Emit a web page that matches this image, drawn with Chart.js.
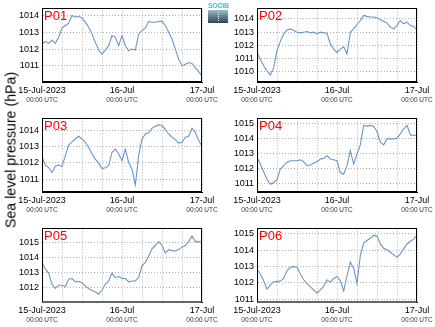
<!DOCTYPE html>
<html><head><meta charset="utf-8">
<script src="https://cdn.jsdelivr.net/npm/chart.js@4/dist/chart.umd.min.js"></script>
<style>
html,body{margin:0;padding:0;background:#fff;}
#wrap{position:relative;width:435px;height:327px;overflow:hidden;font-family:"Liberation Sans",Arial,sans-serif;background:#fff;}
.pc{position:absolute;width:220px;height:105px;}
.pc canvas{display:block;}
#ylab{position:absolute;left:10.5px;top:150px;transform:translate(-50%,-50%) rotate(-90deg);white-space:nowrap;font-size:14.2px;color:#000;line-height:15px;}
#logo{position:absolute;left:208px;top:2px;width:20px;}
#logo .t{font-size:7px;line-height:7px;font-weight:bold;color:#3cc3d8;text-align:center;letter-spacing:-0.3px;}
#logo .b{margin-top:1px;height:13px;background:linear-gradient(#9dbccb,#5f8193 50%,#2e4656);position:relative;}
#logo .b:after{content:"";position:absolute;left:10px;top:2px;height:9px;border-left:1px dotted #fff;}
</style></head>
<body><div id="wrap">
<div class="pc" style="left:0px;top:0px"><canvas id="c0" width="220" height="105"></canvas></div>
<div class="pc" style="left:215px;top:0px"><canvas id="c1" width="220" height="105"></canvas></div>
<div class="pc" style="left:0px;top:110px"><canvas id="c2" width="220" height="105"></canvas></div>
<div class="pc" style="left:215px;top:110px"><canvas id="c3" width="220" height="105"></canvas></div>
<div class="pc" style="left:0px;top:220px"><canvas id="c4" width="220" height="105"></canvas></div>
<div class="pc" style="left:215px;top:220px"><canvas id="c5" width="220" height="105"></canvas></div>
<div id="ylab">Sea level pressure (hPa)</div>
<div id="logo"><div class="t">SOCIB</div><div class="b"></div></div>
</div>
<script>
// hours since 15-Jul-2023 00:00 UTC
const hours = [0,1,2,3,4,5,6,7,8,9,10,11,12,13,14,15,16,17,18,19,20,21,22,23,24,25,26,27,28,29,30,31,32,33,34,35,36,37,38,39,40,41,42,43,44,45,46,47,48];
const gridHours = [0,6,12,18,24,30,36,42,48];
const labelHours = [0,24,48];
const dateLabels = ["15-Jul-2023","16-Jul","17-Jul"];
const timeLabel = "00:00 UTC";
const stations = ["P01","P02","P03","P04","P05","P06"];

const p01 = [1012.30,1012.46,1012.34,1012.54,1012.34,1012.70,1013.26,1013.40,1013.54,1014.00,
             1013.90,1013.94,1013.86,1013.60,1013.30,1012.90,1012.40,1011.94,1011.70,1011.94,
             1012.20,1012.80,1012.70,1012.20,1012.80,1012.20,1011.90,1012.00,1011.94,1012.90,
             1013.10,1013.26,1013.64,1013.60,1013.60,1013.64,1013.66,1013.40,1013.00,1012.60,
             1012.00,1011.40,1011.00,1011.10,1011.20,1011.14,1010.90,1010.66,1010.40];
const p02 = [1011.47,1010.96,1010.46,1010.08,1009.77,1010.30,1011.60,1012.30,1012.86,1013.16,
             1013.24,1013.11,1012.99,1012.94,1012.99,1013.04,1012.94,1012.99,1012.86,1012.99,
             1012.94,1012.91,1012.10,1011.72,1011.47,1011.72,1011.90,1011.34,1012.99,1013.24,
             1013.57,1013.87,1014.25,1014.18,1014.13,1014.13,1014.08,1013.92,1013.82,1013.67,
             1013.37,1013.24,1013.49,1013.87,1013.62,1013.75,1013.49,1013.42,1013.16];
const p03 = [1012.41,1011.87,1011.72,1011.41,1011.80,1011.87,1011.78,1012.45,1013.11,1013.30,
             1013.48,1013.65,1013.48,1013.28,1012.96,1012.55,1012.24,1011.99,1011.65,1011.70,
             1011.83,1012.65,1012.86,1012.55,1012.14,1012.86,1012.03,1011.62,1010.65,1012.45,
             1013.48,1013.79,1013.86,1014.14,1014.27,1014.35,1014.31,1014.06,1013.79,1013.59,
             1013.44,1013.23,1013.28,1013.59,1013.65,1014.14,1013.90,1013.38,1013.03];
const p04 = [1012.74,1012.29,1011.77,1011.27,1010.93,1011.05,1011.23,1011.95,1012.18,1012.40,
             1012.51,1012.51,1012.51,1012.58,1012.45,1012.18,1012.22,1012.36,1012.45,1012.63,
             1012.67,1012.85,1012.63,1012.58,1012.51,1011.72,1011.61,1012.18,1013.19,1012.29,
             1012.97,1013.58,1014.89,1014.84,1014.89,1014.82,1014.48,1013.76,1013.58,1013.98,
             1013.98,1013.98,1014.03,1014.32,1014.66,1014.89,1014.25,1014.21,1014.25];
const p05 = [1013.67,1013.22,1012.96,1012.20,1011.95,1012.16,1012.16,1012.07,1012.56,1012.60,
             1012.38,1012.40,1012.33,1012.11,1011.93,1011.82,1011.71,1011.56,1011.84,1012.22,
             1012.44,1012.96,1012.67,1012.73,1012.60,1012.60,1012.38,1012.44,1012.44,1012.67,
             1013.44,1013.67,1014.07,1014.56,1014.78,1015.04,1014.78,1014.29,1014.51,1014.44,
             1014.42,1014.51,1014.67,1014.78,1015.04,1015.40,1015.04,1015.04,1015.00];
const p06 = [1012.85,1012.54,1012.13,1011.62,1011.86,1012.07,1012.09,1012.11,1012.27,1012.74,
             1012.95,1012.99,1012.95,1012.54,1012.19,1011.96,1011.76,1011.57,1011.37,1011.57,
             1011.78,1012.19,1012.03,1012.27,1012.39,1012.13,1011.51,1012.44,1013.26,1012.89,
             1011.95,1013.67,1014.45,1014.59,1014.73,1014.90,1014.86,1014.38,1014.12,1014.02,
             1013.87,1013.71,1013.56,1013.77,1014.08,1014.38,1014.53,1014.69,1014.90];
const series = [p01,p02,p03,p04,p05,p06];
const yMin = [1010.04,1009.24,1010.21,1010.41,1011.05,1010.83];
const yMax = [1014.42,1014.78,1014.75,1015.36,1015.91,1015.33];

const FONT = "'Liberation Sans', Arial, sans-serif";

const framePlugin = {
  id: 'frame',
  afterDatasetsDraw(chart, args, opts) {
    const {ctx, chartArea: a} = chart;
    ctx.save();
    ctx.font = "13px " + FONT;
    ctx.fillStyle = '#ff0000';
    ctx.textBaseline = 'top';
    ctx.textAlign = 'left';
    ctx.fillText(opts.name, a.left + 2, a.top + 2);
    ctx.restore();
  },
  afterDraw(chart, args, opts) {
    const {ctx, chartArea: a} = chart;
    ctx.save();
    ctx.strokeStyle = '#000';
    ctx.lineWidth = 1;
    const l = Math.round(a.left) + 0.5, r = Math.round(a.right) - 0.5;
    const t = Math.round(a.top) + 0.5, b = Math.round(a.bottom) - 0.5;
    ctx.strokeRect(l, t, r - l, b - t);
    if (opts.thick) {
      ctx.strokeStyle = '#666';
      ctx.lineWidth = 2;
      ctx.beginPath();
      ctx.moveTo(l, b + 0.5); ctx.lineTo(r, b + 0.5);
      ctx.stroke();
    }
    ctx.restore();
  }
};

function makeChart(i) {
  const ctx = document.getElementById('c' + i);
  return new Chart(ctx, {
    type: 'line',
    data: {
      labels: hours,
      datasets: [{
        data: hours.map((h, k) => ({x: h, y: series[i][k]})),
        borderColor: '#6797c8',
        borderWidth: 1.1,
        pointRadius: 0,
        tension: 0,
        fill: false,
        xAxisID: 'x',
        yAxisID: 'y'
      }]
    },
    options: {
      responsive: false,
      animation: false,
      events: [],
      layout: {padding: {left: 0, right: 18, top: 8, bottom: 0}},
      plugins: {legend: {display: false}, tooltip: {enabled: false}, title: {display: false},
        frame: {name: stations[i], thick: i >= 4}},
      scales: {
        x: {
          type: 'linear', position: 'bottom', weight: 0, min: 0, max: 48,
          afterBuildTicks: s => { s.ticks = gridHours.map(v => ({value: v})); },
          afterFit: s => { s.height = 13; },
          ticks: {
            autoSkip: false, maxRotation: 0, minRotation: 0, padding: 3,
            font: {family: FONT, size: 9}, color: '#000',
            callback: v => { const k = labelHours.indexOf(v); return k >= 0 ? dateLabels[k] : ''; }
          },
          grid: {color: '#b0b0b0', lineWidth: 1, drawTicks: false},
          border: {display: true, color: '#000', dash: [1, 2]}
        },
        x2: {
          type: 'linear', position: 'bottom', weight: 1, min: 0, max: 48,
          afterBuildTicks: s => { s.ticks = labelHours.map(v => ({value: v})); },
          afterFit: s => { s.height = 10; },
          ticks: {
            autoSkip: false, maxRotation: 0, minRotation: 0, padding: 1,
            font: {family: FONT, size: 6.5}, color: '#333',
            callback: () => timeLabel
          },
          grid: {display: false, drawTicks: false},
          border: {display: false}
        },
        y: {
          type: 'linear', position: 'left', min: yMin[i], max: yMax[i],
          afterBuildTicks: s => {
            const t = [];
            for (let v = Math.ceil(s.min); v <= s.max; v++) t.push({value: v});
            s.ticks = t;
          },
          afterFit: s => { s.width = 42; },
          ticks: {padding: 3, font: {family: FONT, size: 9}, color: '#000', callback: v => String(v)},
          grid: {color: '#b0b0b0', lineWidth: 1, drawTicks: false},
          border: {display: true, color: '#000', dash: [1, 2]}
        }
      }
    },
    plugins: [framePlugin]
  });
}
for (let i = 0; i < 6; i++) makeChart(i);
</script>
</body></html>
